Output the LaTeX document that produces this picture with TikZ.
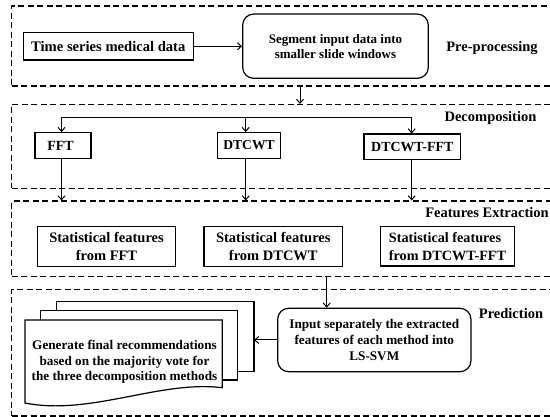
\documentclass[tikz,border=0pt]{standalone}
\usepackage{fontspec}
\setmainfont{Liberation Serif}
\usetikzlibrary{arrows.meta,calc}
\begin{document}
\begin{tikzpicture}[x=1pt,y=-1pt,
  every node/.style={font=\bfseries},
  region/.style={draw,dashed,dash pattern=on 6pt off 3.5pt,line width=1.1pt,inner sep=0pt},
  box/.style={draw,line width=1.2pt,inner sep=0pt,align=center},
  rbox/.style={box,rounded corners=11pt},
  lbl/.style={inner sep=0pt,font=\bfseries\fontsize{14.5}{17}\selectfont},
  arr/.style={line width=1pt,-{Straight Barb[length=4pt,width=7pt,line width=1pt]}},
  ln/.style={line width=1pt},
  doc/.style={draw,fill=white,line width=1.2pt}]
\clip (0,0) rectangle (550,417);
% regions
\node[region,minimum width=560pt,minimum height=80pt,anchor=north west] (r1) at (11,5.5) {};
\node[region,minimum width=560pt,minimum height=83.7pt,anchor=north west] (r2) at (11,104) {};
\node[region,minimum width=560pt,minimum height=75.5pt,anchor=north west] (r3) at (11,200.5) {};
\node[region,minimum width=560pt,minimum height=126.5pt,anchor=north west] (r4) at (11,289) {};
% pre-processing
\node[box,minimum width=170pt,minimum height=27.3pt,font=\bfseries\fontsize{14.6}{17}\selectfont] (ts) at (108.3,46.3) {Time series medical data};
\node[rbox,minimum width=185.6pt,minimum height=64.3pt,font=\bfseries\fontsize{13}{15}\selectfont] (seg) at (335.5,46.2) {Segment input data into\\smaller slide windows};
\node[lbl] (pre) at (492,48.3) {Pre-processing};
\draw[arr] (ts.east) -- (seg.west |- ts.east);
\coordinate (a1) at (300,85.5);
\draw[arr] (a1) -- (a1 |- r2.north);
% decomposition
\node[lbl] (dec) at (490.5,118.3) {Decomposition};
\node[box,minimum width=56pt,minimum height=25.6pt,font=\bfseries\fontsize{14}{17}\selectfont] (fft) at (63,145.5) {FFT\hspace{5pt}};
\node[box,minimum width=63pt,minimum height=25.6pt,font=\bfseries\fontsize{13.6}{17}\selectfont] (dtcwt) at (249,145.5) {DTCWT};
\node[box,minimum width=96.7pt,minimum height=25.3pt,font=\bfseries\fontsize{13.9}{17}\selectfont] (dfft) at (412.3,146.7) {DTCWT-FFT};
\coordinate (b1) at (61.5,117.3);
\coordinate (b2) at (245.7,117.3);
\coordinate (b3) at (411.7,117.3);
\draw[ln] (b1) -- (b3);
\draw[arr] (b1) -- (b1 |- fft.north);
\draw[arr] (b2) -- (b2 |- dtcwt.north);
\draw[arr] (b3) -- (b3 |- dfft.north);
\draw[arr] (b1 |- fft.south) -- (b1 |- r3.north);
\draw[arr] (b2 |- dtcwt.south) -- (b2 |- r3.north);
\draw[arr] (b3 |- dfft.south) -- (b3 |- r3.north);
% features extraction
\node[lbl] (fe) at (487,212.3) {Features Extraction};
\node[box,minimum width=138.4pt,minimum height=40pt,font=\bfseries\fontsize{14.5}{17.7}\selectfont] (s1) at (106.5,246.7) {Statistical features\\from FFT};
\node[box,minimum width=138.7pt,minimum height=40pt,font=\bfseries\fontsize{14.5}{17.7}\selectfont] (s2) at (273.3,246.7) {Statistical features\\from DTCWT};
\node[box,minimum width=133.6pt,minimum height=39.3pt,align=left,font=\bfseries\fontsize{14.2}{17.7}\selectfont] (s3) at (447.5,246.4) {Statistical features\\from DTCWT-FFT};
% prediction
\node[lbl] (pred) at (511,314) {Prediction};
\coordinate (a3) at (326.7,276);
\node[rbox,minimum width=193.3pt,minimum height=63.4pt,font=\bfseries\fontsize{13.2}{15.9}\selectfont] (ls) at (374.3,340) {Input separately the extracted\\features of each method into\\LS-SVM};
\draw[arr] (a3) -- (a3 |- ls.north);
% documents
\draw[doc] (56.7,301.7) rectangle (254,371.7);
\draw[doc] (40.7,310.7) rectangle (237.7,380);
\draw[doc] (25,320) -- (222.3,320) -- (222.3,387.7)
  .. controls (160,380) and (90,416) .. (25,403) -- cycle;
\coordinate (d3) at (254,340);
\node[inner sep=0pt,align=center,font=\bfseries\fontsize{13.2}{15.5}\selectfont] (gen) at (124.5,362) {Generate final recommendations\\based on the majority vote for\\the three decomposition methods};
\draw[arr] (ls.west) -- (ls.west -| d3);
\end{tikzpicture}
\end{document}
